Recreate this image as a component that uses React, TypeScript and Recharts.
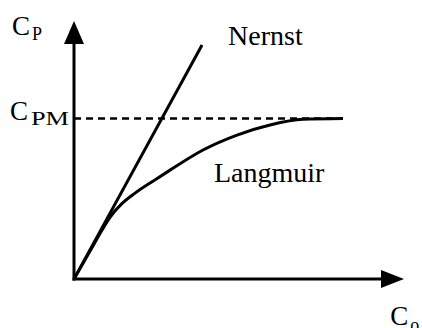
import { ComposedChart, Line, XAxis, YAxis, ReferenceLine, ReferenceDot } from "recharts";

// curves (x = C0, y = Cp, both on a 0..100 scale)
const NERNST_X = [0, 38.8];
const NERNST_Y = [0, 90.7];
const LANGMUIR_X = [0, 6, 8.5, 10.9, 14.5, 18.5, 24.5, 29.1, 39.1, 49.4, 59.4, 69.4, 81.5];
const LANGMUIR_Y = [0, 13.4, 19, 23.9, 29.2, 33.3, 38.4, 42.2, 50, 55.8, 59.7, 61.9, 62.2];
const CPM = 62.2;
const CPM_END = 81.5;

const nernst = NERNST_X.map((x, i) => ({ x, y: NERNST_Y[i] }));
const langmuir = LANGMUIR_X.map((x, i) => ({ x, y: LANGMUIR_Y[i] }));

const FONT = "'Liberation Serif', 'Times New Roman', serif";

// text label drawn at a ReferenceDot position, with optional subscript
const textShape = (main: string, sub?: string, subLen?: number, subDx = 20, subDy = 5, size = 27) =>
  (p: any) => (
    <g>
      <text x={p.cx} y={p.cy} fontFamily={FONT} fontSize={size} fill="#000">{main}</text>
      {sub && (
        <text
          x={p.cx + subDx}
          y={p.cy + subDy}
          fontFamily={FONT}
          fontSize={18}
          fill="#000"
          textLength={subLen}
          lengthAdjust={subLen ? "spacingAndGlyphs" : undefined}
        >
          {sub}
        </text>
      )}
    </g>
  );

const arrowRight = (p: any) => (
  <polygon points={`${p.cx},${p.cy} ${p.cx - 23},${p.cy - 9} ${p.cx - 23},${p.cy + 9}`} fill="#000" />
);
const arrowUp = (p: any) => (
  <polygon points={`${p.cx},${p.cy} ${p.cx - 10},${p.cy + 23} ${p.cx + 10},${p.cy + 23}`} fill="#000" />
);

export default function App() {
  return (
    <div style={{ position: "absolute", left: 0, top: 0, width: 422, height: 328, background: "#fff" }}>
      <ComposedChart width={422} height={328} margin={{ top: 21, right: 18, bottom: 49, left: 74 }}>
        <XAxis type="number" dataKey="x" domain={[0, 100]} allowDataOverflow hide />
        <YAxis type="number" dataKey="y" domain={[0, 100]} allowDataOverflow hide />

        {/* axes with arrow heads */}
        <ReferenceLine segment={[{ x: -0.45, y: 0 }, { x: 95, y: 0 }]} stroke="#000" strokeWidth={3} ifOverflow="visible" />
        <ReferenceLine segment={[{ x: 0, y: -0.6 }, { x: 0, y: 95 }]} stroke="#000" strokeWidth={3} ifOverflow="visible" />
        <ReferenceDot x={100} y={0} ifOverflow="visible" shape={arrowRight} />
        <ReferenceDot x={0} y={100} ifOverflow="visible" shape={arrowUp} />

        <ReferenceLine
          segment={[{ x: 0, y: CPM }, { x: CPM_END, y: CPM }]}
          stroke="#000"
          strokeWidth={2.5}
          strokeDasharray="7 5"
          ifOverflow="visible"
        />

        <Line data={nernst} dataKey="y" type="linear" stroke="#000" strokeWidth={3} dot={false} isAnimationActive={false} />
        <Line data={langmuir} dataKey="y" type="monotone" stroke="#000" strokeWidth={3} dot={false} isAnimationActive={false} />

        <ReferenceDot x={-18.8} y={94.6} ifOverflow="visible" shape={textShape("C", "P", undefined, 20, 5)} />
        <ReferenceDot x={-19.4} y={61.6} ifOverflow="visible" shape={textShape("C", "PM", 38, 21, 5)} />
        <ReferenceDot x={46.7} y={90.7} ifOverflow="visible" shape={textShape("Nernst", undefined, undefined, 0, 0, 28)} />
        <ReferenceDot x={42.4} y={37.6} ifOverflow="visible" shape={textShape("Langmuir", undefined, undefined, 0, 0, 28)} />
        <ReferenceDot x={95.8} y={-17.8} ifOverflow="visible" shape={textShape("C", "o", undefined, 20, 6)} />
      </ComposedChart>
    </div>
  );
}
